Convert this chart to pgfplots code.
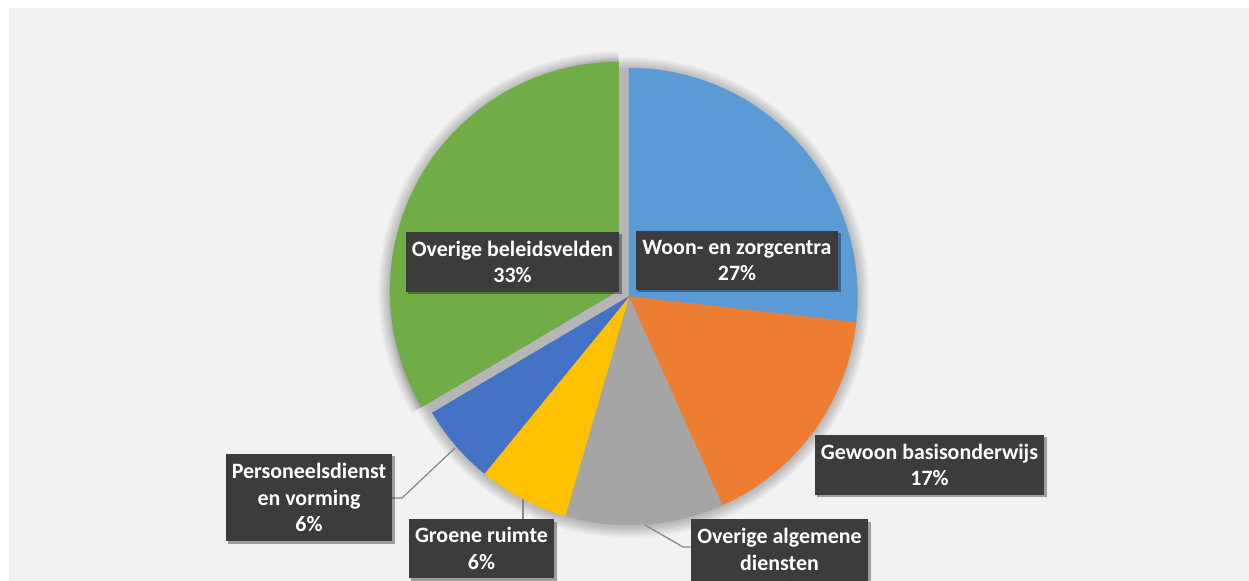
\documentclass[border=0pt]{standalone}
\usepackage{fontspec}
\setmainfont{Carlito}
\usepackage{pgfplots}
\usepackage{pgfplotstable}
\pgfplotsset{compat=1.18}
\usetikzlibrary{shadows}

\definecolor{bg}{HTML}{F2F2F2}
\definecolor{cWoon}{HTML}{5B9BD5}
\definecolor{cGewoon}{HTML}{ED7D31}
\definecolor{cAlg}{HTML}{A5A5A5}
\definecolor{cGroen}{HTML}{FFC000}
\definecolor{cPers}{HTML}{4472C4}
\definecolor{cBeleid}{HTML}{70AD47}
\definecolor{boxc}{HTML}{3C3C3C}
\definecolor{leader}{HTML}{8A8A8A}

\pgfplotstableread{
name value
Woon 26.8
Gewoon 16.5
Algemeen 11.2
Groene 6.4
Personeel 5.6
Beleid 33.5
}\piedata

\pgfplotstablegetelem{0}{value}\of\piedata \pgfmathsetmacro\vA{\pgfplotsretval}
\pgfplotstablegetelem{1}{value}\of\piedata \pgfmathsetmacro\vB{\pgfplotsretval}
\pgfplotstablegetelem{2}{value}\of\piedata \pgfmathsetmacro\vC{\pgfplotsretval}
\pgfplotstablegetelem{3}{value}\of\piedata \pgfmathsetmacro\vD{\pgfplotsretval}
\pgfplotstablegetelem{4}{value}\of\piedata \pgfmathsetmacro\vE{\pgfplotsretval}
\pgfplotstablegetelem{5}{value}\of\piedata \pgfmathsetmacro\vF{\pgfplotsretval}

\pgfmathsetmacro\aA{90}
\pgfmathsetmacro\aB{\aA-3.6*\vA}
\pgfmathsetmacro\aC{\aB-3.6*\vB}
\pgfmathsetmacro\aD{\aC-3.6*\vC}
\pgfmathsetmacro\aE{\aD-3.6*\vD}
\pgfmathsetmacro\aF{\aE-3.6*\vE}
\pgfmathsetmacro\aG{\aF-3.6*\vF}

\def\cx{629}
\def\cy{284.5}
\def\R{228.5}
\pgfmathsetmacro\bis{(\aF+\aG)/2}
\pgfmathsetmacro\gx{\cx+12*cos(\bis)}
\pgfmathsetmacro\gy{\cy+12*sin(\bis)}
\pgfmathsetmacro\ex{\gx+700*cos(\aF)}
\pgfmathsetmacro\ey{\gy+700*sin(\aF)}

\tikzset{
  lbl/.style={fill=boxc, text=white, align=center, inner sep=0pt,
    font=\fontsize{22}{26.5}\selectfont\bfseries,
    drop shadow={shadow xshift=2.5bp, shadow yshift=-2.5bp, opacity=0.35, fill=black}},
  lead/.style={draw=leader, line width=1.3bp}
}

\begin{document}
\begin{tikzpicture}
\useasboundingbox (0,0) rectangle (1249bp,581bp);
\clip (0,0) rectangle (1249bp,581bp);
\begin{axis}[
  at={(0,0)}, anchor=south west,
  scale only axis, width=1249bp, height=581bp,
  xmin=0, xmax=1249, ymin=0, ymax=581,
  hide axis, clip=false,
]
% background
\fill[white] (axis cs:0,0) rectangle (axis cs:1249,581);
\fill[bg] (axis cs:9,0) rectangle (axis cs:1249,573);

% soft shadow
\pgfplotsinvokeforeach{12,11,...,0}{
  \fill[black, opacity=0.018] (axis cs:\cx,\cy-1) circle[radius=\R+#1];
}
\begin{scope}
\clip (axis cs:\gx,\gy) -- (axis cs:\gx,\gy+400) -- (axis cs:\gx-700,\gy+400) -- (axis cs:\gx-700,\ey) -- (axis cs:\ex,\ey) -- cycle;
\pgfplotsinvokeforeach{12,11,...,0}{
  \fill[black, opacity=0.018] (axis cs:\gx,\gy-1) circle[radius=\R+#1];
}
\end{scope}

% slices
\addplot[draw=cWoon, line width=0.3bp, fill=cWoon, domain=\aB:\aA, samples=90, variable=\t]
  ({\cx+\R*cos(\t)},{\cy+\R*sin(\t)}) -- (axis cs:\cx,\cy) -- cycle;
\addplot[draw=cGewoon, line width=0.3bp, fill=cGewoon, domain=\aC:\aB, samples=60, variable=\t]
  ({\cx+\R*cos(\t)},{\cy+\R*sin(\t)}) -- (axis cs:\cx,\cy) -- cycle;
\addplot[draw=cAlg, line width=0.3bp, fill=cAlg, domain=\aD:\aC, samples=50, variable=\t]
  ({\cx+\R*cos(\t)},{\cy+\R*sin(\t)}) -- (axis cs:\cx,\cy) -- cycle;
\addplot[draw=cGroen, line width=0.3bp, fill=cGroen, domain=\aE:\aD, samples=30, variable=\t]
  ({\cx+\R*cos(\t)},{\cy+\R*sin(\t)}) -- (axis cs:\cx,\cy) -- cycle;
\addplot[draw=cPers, line width=0.3bp, fill=cPers, domain=\aF:\aE, samples=30, variable=\t]
  ({\cx+\R*cos(\t)},{\cy+\R*sin(\t)}) -- (axis cs:\cx,\cy) -- cycle;
\addplot[draw=cBeleid, line width=0.3bp, fill=cBeleid, domain=\aG:\aF, samples=120, variable=\t]
  ({\gx+\R*cos(\t)},{\gy+\R*sin(\t)}) -- (axis cs:\gx,\gy) -- cycle;

% leader lines
\draw[lead] (axis cs:392,83) -- (axis cs:402,83) -- (axis cs:455,133);
\draw[lead] (axis cs:523,62) -- (axis cs:523,82);
\draw[lead] (axis cs:645,56) -- (axis cs:683,34) -- (axis cs:691,34);

% labels
\node[lbl, minimum width=213bp, minimum height=60bp] at (axis cs:512.5,319) {Overige beleidsvelden\\33\%};
\node[lbl, minimum width=202bp, minimum height=59bp] at (axis cs:737,320.5) {Woon- en zorgcentra\\27\%};
\node[lbl, minimum width=229bp, minimum height=60bp] at (axis cs:929.5,116) {Gewoon basisonderwijs\\17\%};
\node[lbl, minimum width=177bp, minimum height=87bp] at (axis cs:779.5,18.5) {Overige algemene\\diensten\\11\%};
\node[lbl, minimum width=145bp, minimum height=59bp] at (axis cs:481.5,32.5) {Groene ruimte\\6\%};
\node[lbl, minimum width=166bp, minimum height=87bp] at (axis cs:309,83.5) {Personeelsdienst\\en vorming\\6\%};
\end{axis}
\end{tikzpicture}
\end{document}
